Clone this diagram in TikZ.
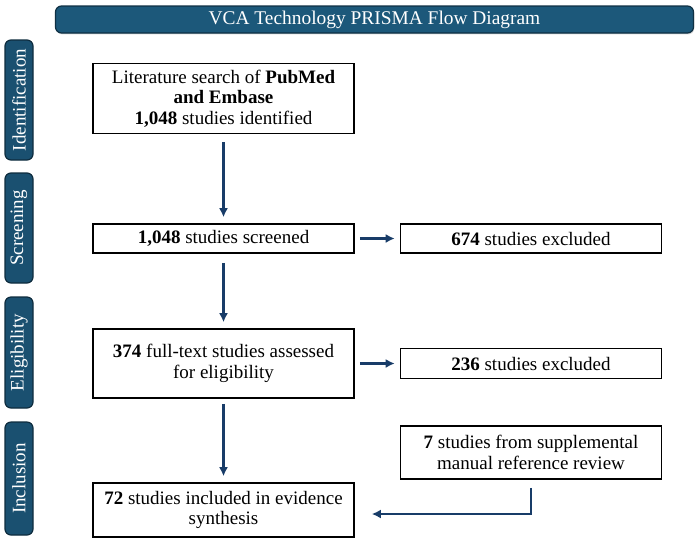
\documentclass[tikz,border=0pt]{standalone}
\usepackage{fontspec}
\setmainfont{Liberation Serif}
\usepackage{tikz}
\usetikzlibrary{arrows.meta,positioning,calc,shadows}
\definecolor{headblue}{RGB}{28,88,122}
\definecolor{stageblue}{RGB}{26,80,112}
\definecolor{flowblue}{RGB}{24,60,104}
\tikzset{
block/.style = {draw, line width=0.8pt, fill=white, rectangle, align=center, minimum width=130.5pt, inner sep=1pt, font=\fontsize{9.5}{10.25}\selectfont},
head/.style  = {draw=headblue!55!black, line width=0.6pt, fill=headblue, rounded corners=3pt, text=white, minimum width=319pt, minimum height=13.5pt, inner sep=0pt,
                font=\fontsize{9.7}{10}\selectfont, drop shadow={opacity=0.3, shadow xshift=0.4pt, shadow yshift=-0.7pt}},
stage/.style = {draw=stageblue!55!black, line width=0.6pt, fill=stageblue, rounded corners=3pt, text=white, rotate=90, minimum height=14pt, inner sep=0pt, font=\fontsize{9.5}{10}\selectfont},
flow/.style  = {-{Latex[length=4.5pt,width=4.5pt]}, line width=1.15pt, draw=flowblue}
}

\begin{document}
\begin{tikzpicture}[x=0.5pt, y=-0.5pt, node distance=153.75pt]
  \useasboundingbox (0,0) rectangle (700,542);

  \node [head]                                          (title)   at (374.5,19.5) {VCA Technology PRISMA Flow Diagram};
  \node [stage, minimum width=60pt]                     (ident)   at (19,100)   {Identification};
  \node [stage, minimum width=55pt]                     (screen)  at (19,228)   {Screening};
  \node [stage, minimum width=55.5pt]                   (elig)    at (19,352.5) {Eligibility};
  \node [stage, minimum width=56.5pt]                   (incl)    at (19,478.5) {Inclusion};

  \node [block, minimum height=35pt]                    (search)  at (223.5,98.5) {Literature search of \textbf{PubMed}\\\textbf{and Embase}\\\textbf{1,048} studies identified};
  \node [block, below of=search, node distance=70pt, minimum height=14.5pt]   (screened) {\textbf{1,048} studies screened};
  \node [block, right of=screened, minimum height=14.5pt]                     (exclA)    {\textbf{674} studies excluded};
  \node [block, below of=screened, node distance=62.5pt, minimum height=34.5pt] (fulltext) {\textbf{374} full-text studies assessed\\for eligibility};
  \node [block, right of=fulltext, minimum height=15pt]                        (exclB)    {\textbf{236} studies excluded};
  \node [block, below of=exclB, node distance=44.5pt, minimum height=26.5pt]   (suppl)    {\textbf{7} studies from supplemental\\manual reference review};
  \node [block, below of=fulltext, node distance=73.25pt, minimum height=27pt]  (included) {\textbf{72} studies included in evidence\\synthesis};

  \draw [flow, shorten <=4pt, shorten >=3pt] (search) -- (screened);
  \draw [flow, shorten <=2.5pt, shorten >=2.5pt] (screened) -- (exclA);
  \draw [flow, shorten <=4.5pt, shorten >=3pt] (screened) -- (fulltext);
  \draw [flow, shorten <=2.5pt, shorten >=2.5pt] (fulltext) -- (exclB);
  \draw [flow, shorten <=2.5pt, shorten >=3pt] (fulltext) -- (included);
  \coordinate [yshift=-2pt] (inclE) at (included.east);
  \draw [flow, shorten <=4pt, shorten >=8.5pt] (suppl.south) |- (inclE);
\end{tikzpicture}
\end{document}
